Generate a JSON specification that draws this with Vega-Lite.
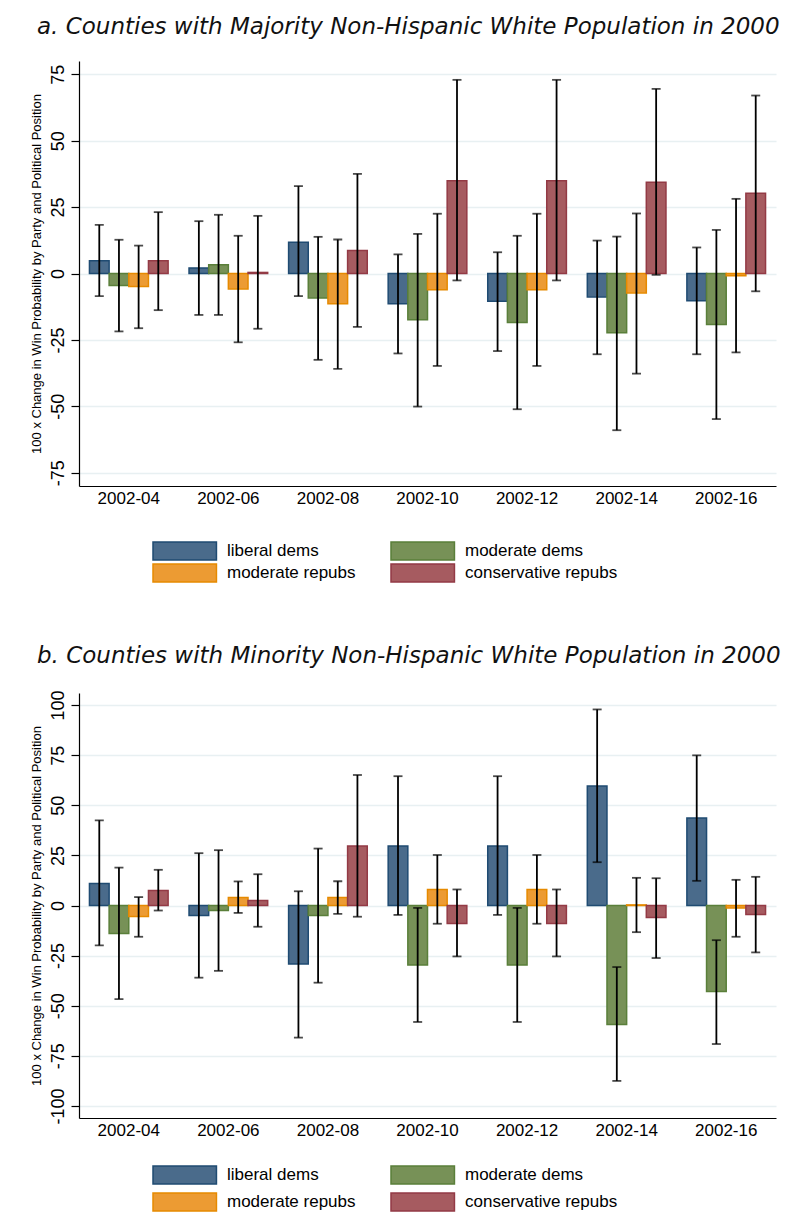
{
  "$schema": "https://vega.github.io/schema/vega-lite/v6.json",
  "background": "white",
  "padding": {"left": 30, "top": 16, "right": 5, "bottom": 0},
  "datasets": {
    "a": [
      {"period": "2002-04", "group": "liberal dems", "value": 4.8, "lo": -8.5, "hi": 18.3},
      {"period": "2002-04", "group": "moderate dems", "value": -4.5, "lo": -21.8, "hi": 12.7},
      {"period": "2002-04", "group": "moderate repubs", "value": -4.9, "lo": -20.6, "hi": 10.5},
      {"period": "2002-04", "group": "conservative repubs", "value": 4.8, "lo": -13.8, "hi": 23.1},
      {"period": "2002-06", "group": "liberal dems", "value": 2.1, "lo": -15.6, "hi": 19.7},
      {"period": "2002-06", "group": "moderate dems", "value": 3.3, "lo": -15.6, "hi": 22.1},
      {"period": "2002-06", "group": "moderate repubs", "value": -5.8, "lo": -25.9, "hi": 14.2},
      {"period": "2002-06", "group": "conservative repubs", "value": 0.4, "lo": -20.8, "hi": 21.7},
      {"period": "2002-08", "group": "liberal dems", "value": 11.8, "lo": -8.5, "hi": 32.9},
      {"period": "2002-08", "group": "moderate dems", "value": -9.2, "lo": -32.5, "hi": 13.8},
      {"period": "2002-08", "group": "moderate repubs", "value": -11.4, "lo": -35.9, "hi": 12.8},
      {"period": "2002-08", "group": "conservative repubs", "value": 8.7, "lo": -20.1, "hi": 37.5},
      {"period": "2002-10", "group": "liberal dems", "value": -11.4, "lo": -30.1, "hi": 7.2},
      {"period": "2002-10", "group": "moderate dems", "value": -17.4, "lo": -50.1, "hi": 14.9},
      {"period": "2002-10", "group": "moderate repubs", "value": -6.1, "lo": -34.8, "hi": 22.5},
      {"period": "2002-10", "group": "conservative repubs", "value": 34.9, "lo": -2.6, "hi": 72.9},
      {"period": "2002-12", "group": "liberal dems", "value": -10.4, "lo": -29.2, "hi": 8.0},
      {"period": "2002-12", "group": "moderate dems", "value": -18.4, "lo": -51.1, "hi": 14.2},
      {"period": "2002-12", "group": "moderate repubs", "value": -6.1, "lo": -34.8, "hi": 22.5},
      {"period": "2002-12", "group": "conservative repubs", "value": 34.9, "lo": -2.6, "hi": 72.9},
      {"period": "2002-14", "group": "liberal dems", "value": -8.8, "lo": -30.4, "hi": 12.4},
      {"period": "2002-14", "group": "moderate dems", "value": -22.3, "lo": -59.0, "hi": 13.9},
      {"period": "2002-14", "group": "moderate repubs", "value": -7.3, "lo": -37.7, "hi": 22.6},
      {"period": "2002-14", "group": "conservative repubs", "value": 34.4, "lo": -0.5, "hi": 69.5},
      {"period": "2002-16", "group": "liberal dems", "value": -10.3, "lo": -30.4, "hi": 9.8},
      {"period": "2002-16", "group": "moderate dems", "value": -19.2, "lo": -54.8, "hi": 16.4},
      {"period": "2002-16", "group": "moderate repubs", "value": -0.8, "lo": -29.7, "hi": 28.1},
      {"period": "2002-16", "group": "conservative repubs", "value": 30.2, "lo": -6.7, "hi": 67.0}
    ],
    "b": [
      {"period": "2002-04", "group": "liberal dems", "value": 11.0, "lo": -19.9, "hi": 42.5},
      {"period": "2002-04", "group": "moderate dems", "value": -14.0, "lo": -46.7, "hi": 18.9},
      {"period": "2002-04", "group": "moderate repubs", "value": -5.5, "lo": -15.6, "hi": 4.2},
      {"period": "2002-04", "group": "conservative repubs", "value": 7.5, "lo": -2.5, "hi": 17.8},
      {"period": "2002-06", "group": "liberal dems", "value": -5.0, "lo": -36.0, "hi": 26.1},
      {"period": "2002-06", "group": "moderate dems", "value": -2.5, "lo": -32.6, "hi": 27.6},
      {"period": "2002-06", "group": "moderate repubs", "value": 4.0, "lo": -3.7, "hi": 12.0},
      {"period": "2002-06", "group": "conservative repubs", "value": 2.5, "lo": -10.6, "hi": 15.6},
      {"period": "2002-08", "group": "liberal dems", "value": -29.2, "lo": -65.9, "hi": 7.1},
      {"period": "2002-08", "group": "moderate dems", "value": -5.0, "lo": -38.5, "hi": 28.4},
      {"period": "2002-08", "group": "moderate repubs", "value": 4.0, "lo": -4.2, "hi": 12.1},
      {"period": "2002-08", "group": "conservative repubs", "value": 29.7, "lo": -5.6, "hi": 65.1},
      {"period": "2002-10", "group": "liberal dems", "value": 29.7, "lo": -4.7, "hi": 64.5},
      {"period": "2002-10", "group": "moderate dems", "value": -29.7, "lo": -58.1, "hi": -1.2},
      {"period": "2002-10", "group": "moderate repubs", "value": 8.0, "lo": -9.1, "hi": 25.2},
      {"period": "2002-10", "group": "conservative repubs", "value": -9.0, "lo": -25.4, "hi": 8.0},
      {"period": "2002-12", "group": "liberal dems", "value": 29.7, "lo": -4.7, "hi": 64.5},
      {"period": "2002-12", "group": "moderate dems", "value": -29.7, "lo": -58.1, "hi": -1.2},
      {"period": "2002-12", "group": "moderate repubs", "value": 8.0, "lo": -9.1, "hi": 25.2},
      {"period": "2002-12", "group": "conservative repubs", "value": -9.0, "lo": -25.4, "hi": 8.0},
      {"period": "2002-14", "group": "liberal dems", "value": 59.6, "lo": 21.6, "hi": 97.8},
      {"period": "2002-14", "group": "moderate dems", "value": -59.3, "lo": -87.5, "hi": -30.7},
      {"period": "2002-14", "group": "moderate repubs", "value": 0.3, "lo": -13.3, "hi": 13.8},
      {"period": "2002-14", "group": "conservative repubs", "value": -6.0, "lo": -26.2, "hi": 13.6},
      {"period": "2002-16", "group": "liberal dems", "value": 43.7, "lo": 12.3, "hi": 74.9},
      {"period": "2002-16", "group": "moderate dems", "value": -42.9, "lo": -69.1, "hi": -17.3},
      {"period": "2002-16", "group": "moderate repubs", "value": -1.2, "lo": -15.6, "hi": 12.8},
      {"period": "2002-16", "group": "conservative repubs", "value": -4.5, "lo": -23.4, "hi": 14.3}
    ]
  },
  "vconcat": [
    {
      "title": {"text": "a.  Counties with Majority Non-Hispanic White Population in 2000"},
      "width": 697,
      "height": 425,
      "data": {"name": "a"},
      "encoding": {
        "x": {"field": "period", "type": "nominal", "title": null,
              "scale": {"paddingInner": 0.21, "paddingOuter": 0.105}},
        "xOffset": {"field": "group", "type": "nominal",
                    "sort": ["liberal dems", "moderate dems", "moderate repubs", "conservative repubs"],
                    "scale": {"paddingInner": 0, "paddingOuter": 0}}
      },
      "layer": [
        {
          "mark": {"type": "bar", "strokeWidth": 1.5},
          "encoding": {
            "y": {"field": "value", "type": "quantitative",
                  "title": "100 x Change in Win Probability by Party and Political Position",
                  "scale": {"domain": [-80, 80], "nice": false},
                  "axis": {"values": [-75, -50, -25, 0, 25, 50, 75]}},
            "fill": {"field": "group", "type": "nominal",
                     "sort": ["liberal dems", "moderate dems", "moderate repubs", "conservative repubs"],
                     "scale": {"domain": ["liberal dems", "moderate dems", "moderate repubs", "conservative repubs"],
                               "range": ["#4a6b8b", "#779157", "#ec9b33", "#a65b60"]},
                     "legend": {"orient": "none", "legendX": 73, "legendY": 480, "rowPadding": -5}},
            "stroke": {"field": "group", "type": "nominal",
                       "scale": {"domain": ["liberal dems", "moderate dems", "moderate repubs", "conservative repubs"],
                                 "range": ["#1f4b72", "#5a7f3a", "#e68a00", "#933a45"]},
                       "legend": null}
          }
        },
        {
          "mark": {"type": "rule", "strokeWidth": 1.8, "color": "black"},
          "encoding": {
            "y": {"field": "lo", "type": "quantitative", "title": "100 x Change in Win Probability by Party and Political Position"},
            "y2": {"field": "hi"}
          }
        },
        {
          "mark": {"type": "tick", "size": 9, "thickness": 1.8, "color": "black"},
          "encoding": {"y": {"field": "lo", "type": "quantitative", "title": "100 x Change in Win Probability by Party and Political Position"}}
        },
        {
          "mark": {"type": "tick", "size": 9, "thickness": 1.8, "color": "black"},
          "encoding": {"y": {"field": "hi", "type": "quantitative", "title": "100 x Change in Win Probability by Party and Political Position"}}
        }
      ]
    },
    {
      "title": {"text": "b.  Counties with Minority Non-Hispanic White Population in 2000"},
      "width": 697,
      "height": 425,
      "data": {"name": "b"},
      "encoding": {
        "x": {"field": "period", "type": "nominal", "title": null,
              "scale": {"paddingInner": 0.21, "paddingOuter": 0.105}},
        "xOffset": {"field": "group", "type": "nominal",
                    "sort": ["liberal dems", "moderate dems", "moderate repubs", "conservative repubs"],
                    "scale": {"paddingInner": 0, "paddingOuter": 0}}
      },
      "layer": [
        {
          "mark": {"type": "bar", "strokeWidth": 1.5},
          "encoding": {
            "y": {"field": "value", "type": "quantitative",
                  "title": "100 x Change in Win Probability by Party and Political Position",
                  "scale": {"domain": [-106, 106], "nice": false},
                  "axis": {"values": [-100, -75, -50, -25, 0, 25, 50, 75, 100]}},
            "fill": {"field": "group", "type": "nominal",
                     "sort": ["liberal dems", "moderate dems", "moderate repubs", "conservative repubs"],
                     "scale": {"domain": ["liberal dems", "moderate dems", "moderate repubs", "conservative repubs"],
                               "range": ["#4a6b8b", "#779157", "#ec9b33", "#a65b60"]},
                     "legend": {"orient": "none", "legendX": 73, "legendY": 472, "rowPadding": 3}},
            "stroke": {"field": "group", "type": "nominal",
                       "scale": {"domain": ["liberal dems", "moderate dems", "moderate repubs", "conservative repubs"],
                                 "range": ["#1f4b72", "#5a7f3a", "#e68a00", "#933a45"]},
                       "legend": null}
          }
        },
        {
          "mark": {"type": "rule", "strokeWidth": 1.8, "color": "black"},
          "encoding": {
            "y": {"field": "lo", "type": "quantitative", "title": "100 x Change in Win Probability by Party and Political Position"},
            "y2": {"field": "hi"}
          }
        },
        {
          "mark": {"type": "tick", "size": 9, "thickness": 1.8, "color": "black"},
          "encoding": {"y": {"field": "lo", "type": "quantitative", "title": "100 x Change in Win Probability by Party and Political Position"}}
        },
        {
          "mark": {"type": "tick", "size": 9, "thickness": 1.8, "color": "black"},
          "encoding": {"y": {"field": "hi", "type": "quantitative", "title": "100 x Change in Win Probability by Party and Political Position"}}
        }
      ]
    }
  ],
  "spacing": 60,
  "resolve": {
    "scale": {"y": "independent", "x": "independent", "fill": "independent", "stroke": "independent"},
    "legend": {"fill": "independent", "stroke": "independent"}
  },
  "config": {
    "font": "Liberation Sans",
    "view": {"stroke": null},
    "title": {"anchor": "start", "frame": "bounds", "fontSize": 23, "fontStyle": "italic",
              "fontWeight": "normal", "font": "DejaVu Sans", "color": "#111111", "offset": 22, "dx": 7},
    "axis": {"domainColor": "black", "domainWidth": 1.2, "labelColor": "black", "titleColor": "black",
             "labelExpr": "replace(datum.label, '\u2212', '-')"},
    "axisY": {"labelAngle": 270, "labelFontSize": 18, "tickSize": 8, "tickColor": "black", "tickWidth": 1.2,
              "grid": true, "gridColor": "#e8f0f2", "gridWidth": 1.5, "titleFontSize": 13,
              "titleFontWeight": "normal", "labelPadding": 4, "titlePadding": 6},
    "axisX": {"labelAngle": 0, "ticks": false, "labelFontSize": 17, "labelPadding": 4, "grid": false},
    "legend": {"title": null, "columns": 2, "direction": "horizontal",
               "symbolType": "M-1,-1L6.05,-1L6.05,1L-1,1Z", "symbolSize": 324,
               "symbolStrokeWidth": 1.5, "labelFontSize": 17, "labelOffset": 55,
               "columnPadding": 32, "labelColor": "black"},
    "bar": {"opacity": 1}
  }
}
